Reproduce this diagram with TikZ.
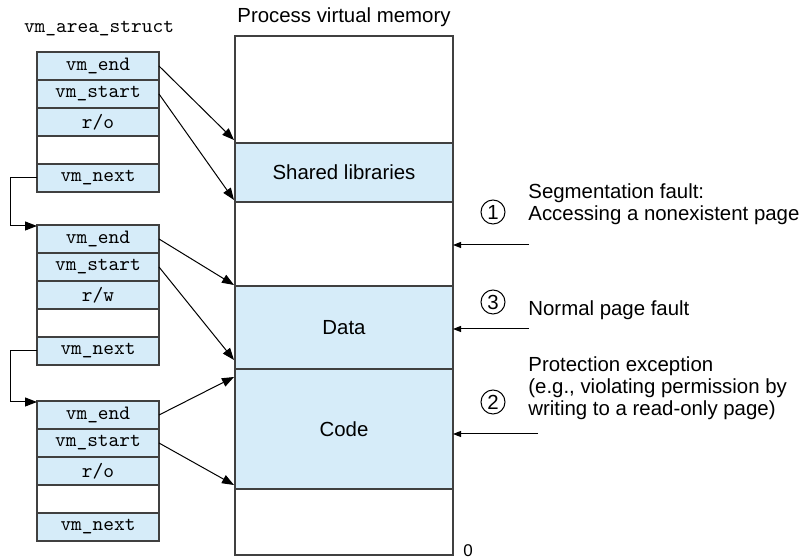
\documentclass[tikz,border=0pt]{standalone}
\usepackage{fontspec}
\setsansfont{Liberation Sans}
\usetikzlibrary{arrows.meta,calc}
\definecolor{segblue}{RGB}{214,236,249}
\tikzset{
	field/.style={draw=black!75, line width=0.6pt, fill=segblue, minimum width=61pt, minimum height=14pt, inner sep=0pt, outer sep=0pt, font=\ttfamily\fontsize{10.2}{12}\selectfont},
	seg/.style={draw=black!75, line width=0.6pt, minimum width=109pt, inner sep=0pt, outer sep=0pt, font=\sffamily\fontsize{10.2}{12}\selectfont},
	note/.style={anchor=west, align=left, inner sep=0pt, font=\sffamily\fontsize{10.2}{11}\selectfont},
	num/.style={circle, draw, line width=0.5pt, minimum size=12pt, inner sep=0pt, font=\sffamily\fontsize{10.2}{12}\selectfont},
	ptr/.style={-{Triangle[length=6pt,width=4.5pt]}, line width=0.5pt},
	fault/.style={-{Triangle[length=4pt,width=3pt]}, line width=0.5pt}
}
\begin{document}
\begin{tikzpicture}[x=0.5pt, y=-0.5pt]
\useasboundingbox (0,0) rectangle (804,560);
\node[font=\ttfamily\fontsize{10.2}{12}\selectfont] (structtitle) at (99,29) {vm\_area\_struct};
\node[font=\sffamily\fontsize{10.2}{12}\selectfont] (memtitle) at (344,17) {Process virtual memory};
\foreach \k/\ytop/\perm in {1/52/r\slash o, 2/225/r\slash w, 3/401/r\slash o}
{
	\node[field] (end\k) at (98,\ytop+14) {vm\_end};
	\node[field] (start\k) at (98,\ytop+42) {vm\_start};
	\node[field] (perm\k) at (98,\ytop+70) {\perm};
	\node[field, fill=white] (gap\k) at (98,\ytop+98) {};
	\node[field] (next\k) at (98,\ytop+126) {vm\_next};
}
\foreach \n/\a/\b/\c/\txt in {upper/36/143/white/{}, shlib/143/202/segblue/Shared libraries, hole/202/286/white/{}, data/286/369/segblue/Data, code/369/489/segblue/Code, lower/489/555/white/{}}
{
	\node[seg, fill=\c, minimum height={(\b-\a)*0.5pt}] (\n) at (344,{(\a+\b)/2}) {\txt};
}
\node[inner sep=0pt, font=\sffamily\fontsize{8.5}{10}\selectfont] (zero) at (468,551) {0};
\foreach \a/\b in {1/2, 2/3}
{
	\draw[ptr] (next\a.west) -- ++(-27,0) |- ($(end\b.north west)+(0,1)$);
}
\draw[ptr] (end1.east) -- ($(shlib.north west)+(-1,-3)$);
\draw[ptr] (start1.east) -- ($(shlib.south west)+(-1,-2)$);
\draw[ptr] (end2.east) -- ($(data.north west)+(-1,-1)$);
\draw[ptr] (start2.east) -- ($(code.north west)+(-1,-9)$);
\draw[ptr] (end3.east) -- ($(code.north west)+(-1,8)$);
\draw[ptr] (start3.east) -- ($(code.south west)+(-1,-4)$);
\node[num] (c1) at (493,212) {1};
\node[note] (segfault) at (528,204) {Segmentation fault:\\Accessing a nonexistent page};
\node[num] (c3) at (493,302) {3};
\node[note] (normal) at (528,310) {Normal page fault};
\node[num] (c2) at (493,402) {2};
\node[note] (protect) at (528,388) {Protection exception\\(e.g., violating permission by\\writing to a read-only page)};
\coordinate (f1) at (529,245);
\coordinate (f3) at (529,329);
\coordinate (f2) at (538,434);
\foreach \f in {f1,f3,f2}
{
	\draw[fault] (\f) -- (\f -| hole.east);
}
\end{tikzpicture}
\end{document}
